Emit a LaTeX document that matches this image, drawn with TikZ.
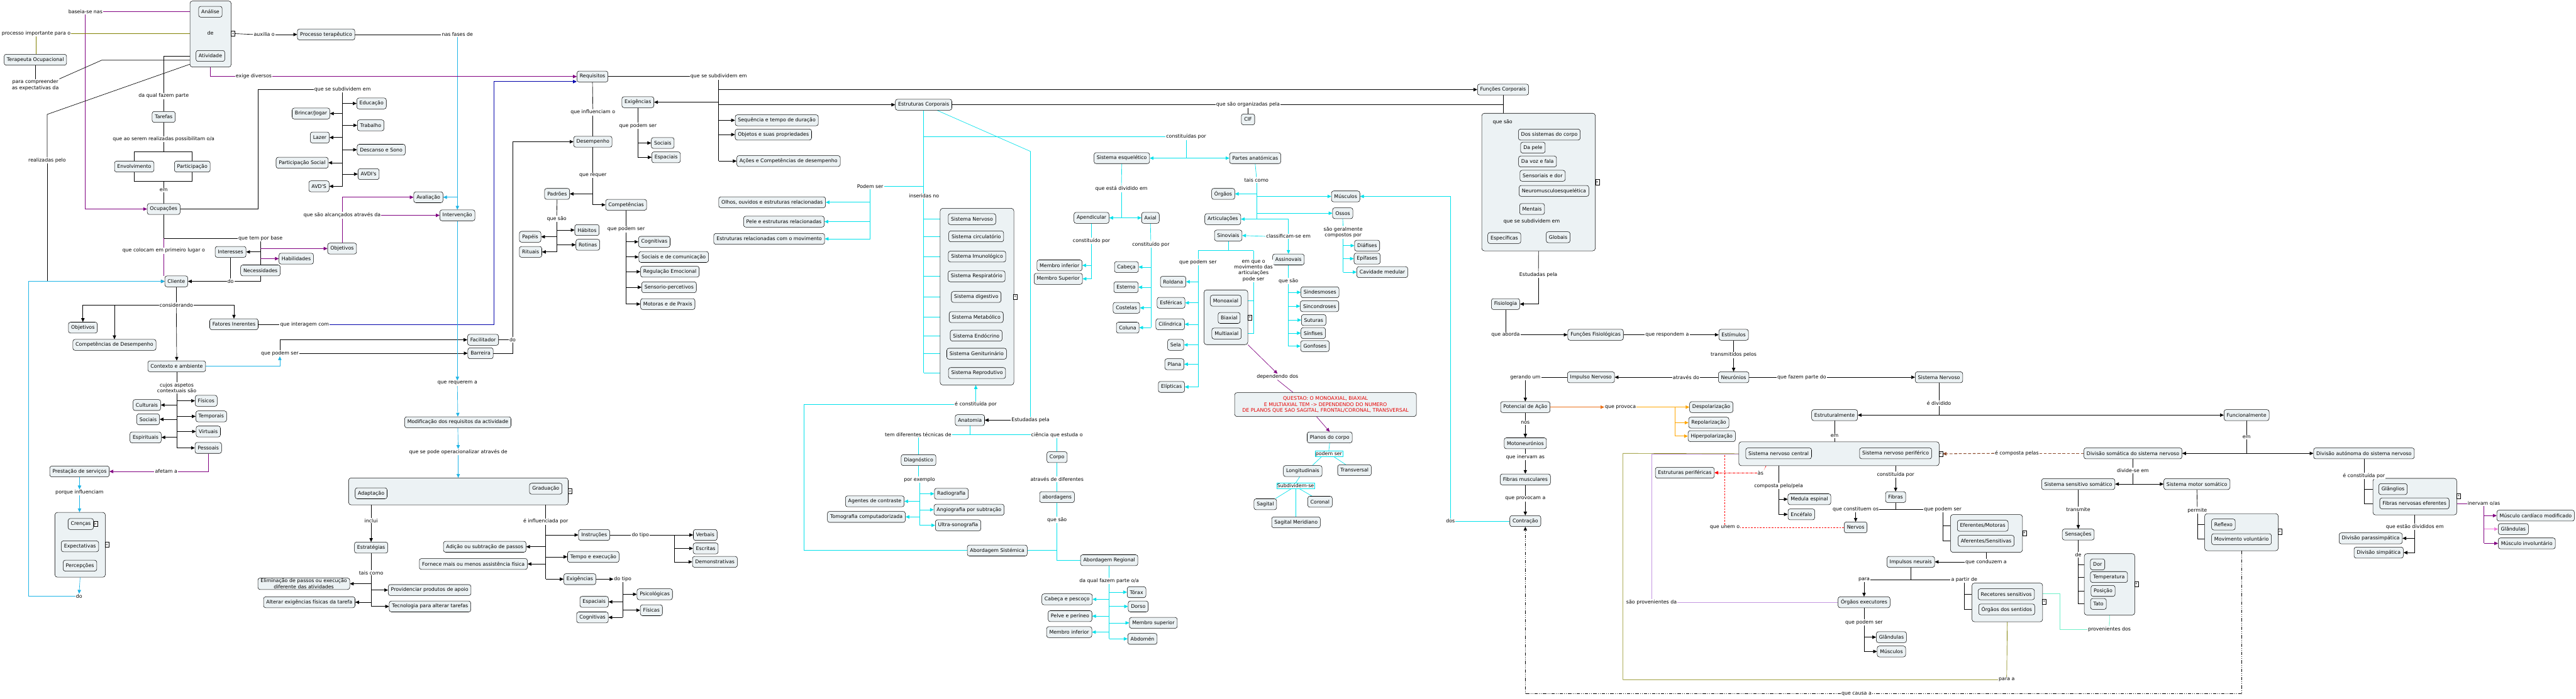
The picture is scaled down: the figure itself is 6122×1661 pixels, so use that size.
\documentclass[tikz,border=0pt]{standalone}
\usepackage{fontspec}
\newfontfamily\dv{DejaVu Sans}
\usetikzlibrary{arrows.meta}
\definecolor{nfill}{RGB}{236,242,244}
\definecolor{purp}{RGB}{128,0,128}
\definecolor{olivc}{RGB}{128,128,0}
\definecolor{skyc}{RGB}{30,180,230}
\definecolor{cyc}{RGB}{0,225,235}
\definecolor{navyc}{RGB}{0,0,170}
\definecolor{orng}{RGB}{235,110,20}
\definecolor{orng2}{RGB}{255,165,0}
\definecolor{brwn}{RGB}{140,75,45}
\definecolor{lavc}{RGB}{195,150,225}
\definecolor{mintc}{RGB}{110,240,200}
\definecolor{pinkc}{RGB}{240,120,220}
\definecolor{qred}{RGB}{230,0,0}
\pgfdeclarelayer{bg}
\pgfsetlayers{bg,main}
\newcommand\mapfont{\dv\fontsize{11.8}{14}\selectfont}
\newcommand\toR[3][ar]{\draw[#1] (#2 |- #3.west) -- (#3.west);}
\newcommand\toL[3][ar]{\draw[#1] (#2 |- #3.east) -- (#3.east);}
\tikzset{
 cn/.style={draw=black, line width=0.8pt, rounded corners=5pt, fill=nfill, inner xsep=6.5pt, inner ysep=2pt, minimum height=26pt, font=\mapfont, align=center},
 grp/.style={draw=black, line width=0.8pt, rounded corners=6pt, fill=nfill, anchor=north west, inner sep=0pt},
 lb/.style={fill=white, inner sep=1.5pt, font=\mapfont, align=center},
 lbc/.style={lb, draw=cyc, line width=0.8pt},
 tx/.style={inner sep=1pt, font=\mapfont, align=center},
 ic/.style={draw=black, fill=white, line width=0.6pt, inner sep=0pt, minimum width=9pt, minimum height=12pt, font=\dv\fontsize{9}{9}\selectfont},
 tip/.style={-{Triangle[length=9pt,width=8pt]}},
 ln/.style={line width=1pt, draw=black},
 ar/.style={ln, tip},
 pu/.style={line width=1pt, draw=purp},
 puar/.style={pu, tip},
 pkar/.style={line width=1pt, draw=pinkc, tip},
 olv/.style={line width=1pt, draw=olivc},
 sk/.style={line width=1pt, draw=skyc},
 skar/.style={sk, tip},
 cy/.style={line width=1pt, draw=cyc},
 cyar/.style={cy, tip},
 nvar/.style={line width=1pt, draw=navyc, tip},
 orar/.style={line width=1pt, draw=orng, tip},
 ortw/.style={line width=1pt, draw=orng2},
 ortwar/.style={ortw, tip},
 bd/.style={line width=1.6pt, draw=brwn, dash pattern=on 7pt off 4pt},
 bdar/.style={bd, tip},
 rdd/.style={line width=1pt, draw=red, dash pattern=on 5pt off 2pt on 1.5pt off 2pt},
 rddar/.style={rdd, tip},
 rdsh/.style={line width=1pt, draw=red, dash pattern=on 4pt off 3pt},
 lv/.style={line width=1pt, draw=lavc},
 mt/.style={line width=1.2pt, draw=mintc},
 ddl/.style={line width=1.4pt, draw=black, dash pattern=on 8pt off 3pt on 1.5pt off 3pt on 1.5pt off 3pt},
 ddar/.style={ddl, tip},
}
\begin{document}
\begin{tikzpicture}[x=1pt,y=-1pt]
\useasboundingbox (0,0) rectangle (6122,1661);
% ---------- group boxes ----------
\node[grp, minimum width=98pt, minimum height=157pt] (anabox) at (451,2) {};
\node[grp, minimum width=120pt, minimum height=154pt] (crenbox) at (130,1218) {};
\node[grp, minimum width=522pt, minimum height=64pt] (adbox) at (828,1136) {};
\node[grp, minimum width=175pt, minimum height=420pt] (sysbox) at (2234,495) {};
\node[grp, minimum width=104pt, minimum height=130pt] (axbox) at (2861,689) {};
\node[grp, minimum width=270pt, minimum height=327pt] (fcbox) at (3521,269) {};
\node[grp, minimum width=476pt, minimum height=57pt] (snbox) at (4132,1050) {};
\node[grp, minimum width=171pt, minimum height=90pt] (efbox) at (4635,1223) {};
\node[grp, minimum width=168pt, minimum height=92pt] (recbox) at (4686,1386) {};
\node[grp, minimum width=120pt, minimum height=146pt] (sensbox) at (4953,1316) {};
\node[grp, minimum width=175pt, minimum height=88pt] (movbox) at (5239,1221) {};
\node[grp, minimum width=199pt, minimum height=87pt] (autbox) at (5639,1137) {};
\node[grp, anchor=center, minimum width=432pt, minimum height=57pt, inner xsep=8pt, font=\mapfont, text=qred, align=center] (questao) at (3150,962) {QUESTAO: O MONOAXIAL, BIAXIAL\\E MULTIAXIAL TEM -> DEPENDENDO DO NUMERO\\DE PLANOS QUE SAO SAGITAL, FRONTAL/CORONAL, TRANSVERSAL};
% ---------- left ----------
\node[cn] (analise) at (500,28) {Análise};
\node[tx] (dede) at (500,79) {de};
\node[cn] (atividade) at (500,133) {Atividade};
\node[ic] (icana) at (554,80) {«};
\node[cn] (procter) at (775,82) {Processo terapêutico};
\node[lb] (lauxilia) at (628,82) {auxilia o};
\node[lb] (lfases) at (1087,82) {nas fases de};
\node[cn] (terap) at (84,142) {Terapeuta Ocupacional};
\node[lb] (lproc) at (86,79) {processo importante para o};
\node[lb] (lbaseia) at (203,28) {baseia-se nas};
\node[lb] (lpara) at (84,202) {para compreender\\as expectativas da};
\node[lb] (lexige) at (603,182) {exige diversos};
\node[lb] (lqual) at (389,228) {da qual fazem parte};
\node[cn] (tarefas) at (389,278) {Tarefas};
\node[lb] (lposs) at (389,331) {que ao serem realizadas possibilitam o/a};
\node[cn] (envolv) at (319,396) {Envolvimento};
\node[cn] (partic) at (457,396) {Participação};
\node[lb] (lem1) at (389,452) {em};
\node[cn] (ocup) at (389,497) {Ocupações};
\node[lb] (lreal) at (112,381) {realizadas pelo};
\node[lb] (lsub1) at (814,213) {que se subdividem em};
\node[cn] (educ) at (883,246) {Educação};
\node[cn] (brincar) at (739,270) {Brincar/Jogar};
\node[cn] (trabalho) at (881,298) {Trabalho};
\node[cn] (lazer) at (760,327) {Lazer};
\node[cn] (descanso) at (906,356) {Descanso e Sono};
\node[cn] (partsoc) at (718,387) {Participação Social};
\node[cn] (avdis) at (876,414) {AVDI's};
\node[cn] (avds) at (758,443) {AVD'S};
\node[cn] (avaliacao) at (1018,469) {Avaliação};
\node[cn] (intervencao) at (1087,512) {Intervenção};
\node[lb] (lalc) at (813,512) {que são alcançados através da};
\node[cn] (objetivos1) at (813,591) {Objetivos};
\node[lb] (lbase) at (619,567) {que tem por base};
\node[lb] (lprim) at (389,596) {que colocam em primeiro lugar o};
\node[cn] (interesses) at (548,599) {Interesses};
\node[cn] (habilidades) at (704,615) {Habilidades};
\node[cn] (necess) at (619,643) {Necessidades};
\node[lb] (ldo1) at (548,669) {do};
\node[cn] (cliente) at (419,669) {Cliente};
\node[lb] (lcons) at (419,725) {considerando};
\node[cn] (objetivos2) at (197,779) {Objetivos};
\node[cn] (compdes) at (272,820) {Competências de Desempenho};
\node[cn] (fatores) at (556,771) {Fatores Inerentes};
\node[cn] (contexto) at (420,871) {Contexto e ambiente};
\node[lb] (linter) at (724,771) {que interagem com};
\node[lb] (lpod1) at (665,840) {que podem ser};
\node[cn] (facilitador) at (1148,808) {Facilitador};
\node[cn] (barreira) at (1142,840) {Barreira};
\node[lb] (ldo2) at (1218,808) {do};
\node[lb] (lcujos) at (420,922) {cujos aspetos\\contextuais são};
\node[cn] (fisicos) at (490,953) {Físicos};
\node[cn] (culturais) at (349,963) {Culturais};
\node[cn] (temporais) at (502,990) {Temporais};
\node[cn] (sociais1) at (352,997) {Sociais};
\node[cn] (virtuais) at (495,1026) {Virtuais};
\node[cn] (espirituais) at (346,1040) {Espirituais};
\node[cn] (pessoais) at (495,1065) {Pessoais};
\node[lb] (lafet) at (395,1121) {afetam a};
\node[cn] (prestacao) at (189,1121) {Prestação de serviços};
\node[lb] (lporque) at (189,1171) {porque influenciam};
\node[cn] (crencas) at (192,1246) {Crenças};
\node[ic] at (227,1246) {»};
\node[cn] (expect) at (190,1299) {Expectativas};
\node[cn] (percep) at (190,1345) {Percepções};
\node[ic] at (254,1295) {«};
\node[lb] (ldo3) at (188,1418) {do};
\node[lb] (lreq) at (1087,911) {que requerem a};
\node[cn] (modif) at (1088,1004) {Modificação dos requisitos da actividade};
\node[lb] (loper) at (1089,1075) {que se pode operacionalizar através de};
\node[cn] (adaptacao) at (882,1173) {Adaptação};
\node[cn] (graduacao) at (1297,1162) {Graduação};
\node[ic] at (1355,1168) {«};
\node[lb] (linclui) at (882,1238) {inclui};
\node[cn] (estrategias) at (882,1302) {Estratégias};
\node[lb] (ltais1) at (882,1362) {tais como};
\node[cn] (elimin) at (722,1388) {Eliminação de passos ou execução\\diferente das atividades};
\node[cn] (providenciar) at (1021,1403) {Providenciar produtos de apoio};
\node[cn] (alterar) at (735,1432) {Alterar exigências físicas da tarefa};
\node[cn] (tecnologia) at (1022,1442) {Tecnologia para alterar tarefas};
\node[cn] (adicao) at (1152,1300) {Adição ou subtração de passos};
\node[cn] (fornece) at (1125,1341) {Fornece mais ou menos assistência física};
\node[lb] (linfl) at (1297,1240) {é influenciada por};
\node[cn] (instrucoes) at (1412,1272) {Instruções};
\node[cn] (tempo) at (1410,1324) {Tempo e execução};
\node[cn] (exig2) at (1378,1377) {Exigências};
\node[lb] (ltipo1) at (1522,1272) {do tipo};
\node[cn] (verbais) at (1676,1272) {Verbais};
\node[cn] (escritas) at (1677,1304) {Escritas};
\node[cn] (demonstr) at (1699,1336) {Demonstrativas};
\node[lb] (ltipo2) at (1480,1377) {do tipo};
\node[cn] (psicol) at (1556,1413) {Psicológicas};
\node[cn] (espac2) at (1412,1431) {Espaciais};
\node[cn] (fisicas) at (1548,1451) {Físicas};
\node[cn] (cognit2) at (1408,1468) {Cognitivas};
% ---------- middle ----------
\node[cn] (requisitos) at (1408,182) {Requisitos};
\node[lb] (lsub2) at (1708,182) {que se subdividem em};
\node[cn] (exig1) at (1516,243) {Exigências};
\node[cn] (estrcorp) at (2195,249) {Estruturas Corporais};
\node[cn] (sequencia) at (1846,286) {Sequência e tempo de duração};
\node[cn] (objetos) at (1838,320) {Objetos e suas propriedades};
\node[cn] (acoes) at (1874,383) {Ações e Competências de desempenho};
\node[lb] (lpod2) at (1516,299) {que podem ser};
\node[cn] (sociais2) at (1575,340) {Sociais};
\node[cn] (espaciais1) at (1583,374) {Espaciais};
\node[lb] (linflu) at (1409,267) {que influenciam o};
\node[cn] (desempenho) at (1409,337) {Desempenho};
\node[lb] (lrequer) at (1409,417) {que requer};
\node[cn] (padroes) at (1324,461) {Padrões};
\node[cn] (compet) at (1488,487) {Competências};
\node[lb] (lsao1) at (1323,520) {que são};
\node[cn] (habitos) at (1395,547) {Hábitos};
\node[cn] (papeis) at (1260,563) {Papéis};
\node[cn] (rotinas) at (1397,582) {Rotinas};
\node[cn] (rituais) at (1261,599) {Rituais};
\node[lb] (lpod3) at (1488,545) {que podem ser};
\node[cn] (cognit1) at (1555,575) {Cognitivas};
\node[cn] (socom) at (1601,611) {Sociais e de comunicação};
\node[cn] (regem) at (1592,646) {Regulação Emocional};
\node[cn] (sensor) at (1590,683) {Sensorio-percetivos};
\node[cn] (motoras) at (1587,723) {Motoras e de Praxis};
\node[lb] (lpodem) at (2068,443) {Podem ser};
\node[cn] (olhos) at (1835,481) {Olhos, ouvidos e estruturas relacionadas};
\node[cn] (pele) at (1863,527) {Pele e estruturas relacionadas};
\node[cn] (estmov) at (1828,568) {Estruturas relacionadas com o movimento};
\node[lb] (linser) at (2196,466) {inseridas no};
\node[cn] (sysnerv) at (2310,521) {Sistema Nervoso};
\node[cn] (syscirc) at (2320,562) {Sistema circulatório};
\node[cn] (sysimun) at (2322,610) {Sistema Imunológico};
\node[cn] (sysresp) at (2321,657) {Sistema Respiratório};
\node[cn] (sysdig) at (2320,706) {Sistema digestivo};
\node[cn] (sysmet) at (2320,754) {Sistema Metabólico};
\node[cn] (sysend) at (2320,798) {Sistema Endócrino};
\node[cn] (sysgen) at (2321,841) {Sistema Geniturinário};
\node[cn] (sysrep) at (2322,887) {Sistema Reprodutivo};
\node[ic] at (2413,706) {«};
\node[lb] (lconst4) at (2319,962) {é constituída por};
\node[cn] (anatomia) at (2305,999) {Anatomia};
\node[lb] (lestud) at (2449,999) {Estudadas pela};
\node[lb] (ltec) at (2182,1034) {tem diferentes técnicas de};
\node[lb] (lcien) at (2512,1034) {ciência que estuda o};
\node[cn] (diagnostico) at (2183,1094) {Diagnóstico};
\node[cn] (corpo) at (2512,1087) {Corpo};
\node[lb] (lexem) at (2185,1141) {por exemplo};
\node[cn] (radio) at (2261,1174) {Radiografia};
\node[cn] (agentes) at (2079,1192) {Agentes de contraste};
\node[cn] (angio) at (2303,1212) {Angiografia por subtração};
\node[cn] (tomo) at (2059,1229) {Tomografia computadorizada};
\node[cn] (ultra) at (2277,1249) {Ultra-sonografia};
\node[lb] (latrav) at (2512,1140) {através de diferentes};
\node[cn] (abordagens) at (2512,1182) {abordagens};
\node[lb] (lsao3) at (2512,1236) {que são};
\node[cn] (absist) at (2370,1309) {Abordagem Sistémica};
\node[cn] (abreg) at (2636,1332) {Abordagem Regional};
\node[lb] (lfaz2) at (2636,1381) {da qual fazem parte o/a};
\node[cn] (torax) at (2701,1408) {Tórax};
\node[cn] (cabpes) at (2536,1425) {Cabeça e pescoço};
\node[cn] (dorso) at (2705,1442) {Dorso};
\node[cn] (pelve) at (2543,1465) {Pelve e períneo};
\node[cn] (msup) at (2741,1481) {Membro superior};
\node[cn] (minf) at (2541,1503) {Membro inferior};
\node[cn] (abdomen) at (2715,1519) {Abdomén};
\node[lb] (lorg) at (2966,249) {que são organizadas pela};
\node[cn] (cif) at (2966,284) {CIF};
\node[lb] (lconst) at (2819,325) {constituídas por};
\node[cn] (sisesq) at (2666,376) {Sistema esquelético};
\node[cn] (partes) at (2983,376) {Partes anatómicas};
\node[lb] (ldiv) at (2665,449) {que está dividido em};
\node[cn] (apend) at (2594,518) {Apendicular};
\node[cn] (axial) at (2734,518) {Axial};
\node[lb] (lcons2) at (2594,572) {constituído por};
\node[cn] (minf2) at (2518,631) {Membro inferior};
\node[cn] (msup2) at (2515,663) {Membro Superior};
\node[lb] (lcons3) at (2735,581) {constituído por};
\node[cn] (cabeca) at (2677,635) {Cabeça};
\node[cn] (esterno) at (2676,683) {Esterno};
\node[cn] (costelas) at (2677,732) {Costelas};
\node[cn] (coluna) at (2680,779) {Coluna};
\node[lb] (ltais2) at (2986,428) {tais como};
\node[cn] (orgaos) at (2907,461) {Órgãos};
\node[cn] (musculos) at (3198,467) {Músculos};
\node[cn] (ossos) at (3191,507) {Ossos};
\node[cn] (articul) at (2906,521) {Articulações};
\node[lb] (lclass) at (3062,562) {classificam-se em};
\node[cn] (sinoviais) at (2919,560) {Sinoviais};
\node[cn] (assinov) at (3062,617) {Assinovais};
\node[lb] (lcomp) at (3192,553) {são geralmente\\compostos por};
\node[cn] (diafises) at (3249,584) {Diáfises};
\node[cn] (epifases) at (3249,615) {Epífases};
\node[cn] (cavidade) at (3285,647) {Cavidade medular};
\node[lb] (lpod4) at (2847,623) {que podem ser};
\node[cn] (roldana) at (2788,670) {Roldana};
\node[cn] (esfericas) at (2783,720) {Esféricas};
\node[cn] (cilindrica) at (2781,771) {Cilíndrica};
\node[cn] (sela) at (2794,820) {Sela};
\node[cn] (plana) at (2791,866) {Plana};
\node[cn] (elipticas) at (2784,920) {Elípticas};
\node[lb] (lmov) at (2979,644) {em que o\\movimento das\\articulações\\pode ser};
\node[cn] (monoax) at (2913,715) {Monoaxial};
\node[cn] (biax) at (2921,756) {Biaxial};
\node[cn] (multiax) at (2915,793) {Multiaxial};
\node[ic] at (2970,755) {«};
\node[lb] (lsao2) at (3062,668) {que são};
\node[cn] (sindes) at (3137,695) {Sindesmoses};
\node[cn] (sincon) at (3136,728) {Sincondroses};
\node[cn] (suturas) at (3122,761) {Suturas};
\node[cn] (sinfises) at (3121,792) {Sínfises};
\node[cn] (gonfoses) at (3125,823) {Gonfoses};
\node[lb] (ldep) at (3036,896) {dependendo dos};
\node[cn] (planos) at (3160,1040) {Planos do corpo};
\node[lbc] (lpodem2) at (3158,1079) {podem ser};
\node[cn] (longit) at (3096,1120) {Longitudinais};
\node[cn] (transv) at (3219,1118) {Transversal};
\node[lbc] (lsubd) at (3079,1155) {Subdividem-se};
\node[cn] (sagital) at (3007,1199) {Sagital};
\node[cn] (coronal) at (3137,1193) {Coronal};
\node[cn] (sagmer) at (3080,1242) {Sagital Meridiano};
% ---------- right ----------
\node[cn] (funcorp) at (3572,213) {Funções Corporais};
\node[tx] at (3571,290) {que são};
\node[cn] (dossis) at (3682,320) {Dos sistemas do corpo};
\node[cn] (dapele) at (3643,351) {Da pele};
\node[cn] (davoz) at (3654,384) {Da voz e fala};
\node[cn] (sensdor) at (3666,418) {Sensoriais e dor};
\node[cn] (neuro) at (3693,454) {Neuromusculoesquelética};
\node[cn] (mentais) at (3641,497) {Mentais};
\node[tx] at (3640,526) {que se subdividem em};
\node[cn] (especif) at (3575,566) {Específicas};
\node[cn] (globais) at (3703,564) {Globais};
\node[ic] at (3796,433) {«};
\node[lb] (lestud2) at (3656,653) {Estudadas pela};
\node[cn] (fisiologia) at (3578,723) {Fisiologia};
\node[lb] (laborda) at (3578,796) {que aborda};
\node[cn] (funfis) at (3792,796) {Funções Fisiológicas};
\node[lb] (lresp) at (3962,796) {que respondem a};
\node[cn] (estimulos) at (4120,796) {Estímulos};
\node[lb] (ltrans) at (4120,844) {transmitidos pelos};
\node[cn] (neuronios) at (4120,897) {Neurónios};
\node[lb] (latrav2) at (4007,897) {através do};
\node[cn] (impnerv) at (3781,897) {Impulso Nervoso};
\node[lb] (lger) at (3625,897) {gerando um};
\node[cn] (potacao) at (3625,968) {Potencial de Ação};
\node[lb] (lprov) at (3851,968) {que provoca};
\node[cn] (despol) at (4067,968) {Despolarização};
\node[cn] (repol) at (4061,1005) {Repolarização};
\node[cn] (hiperpol) at (4068,1037) {Hiperpolarização};
\node[lb] (lnos) at (3625,1005) {nos};
\node[cn] (motoneur) at (3625,1054) {Motoneurónios};
\node[lb] (linerv) at (3625,1087) {que inervam as};
\node[cn] (fibmusc) at (3625,1140) {Fibras musculares};
\node[lb] (lprovoc) at (3625,1186) {que provocam a};
\node[cn] (contracao) at (3625,1239) {Contração};
\node[lb] (ldos) at (3447,1239) {dos};
\node[lb] (lfazem) at (4282,897) {que fazem parte do};
\node[cn] (sisnerv2) at (4608,897) {Sistema Nervoso};
\node[lb] (ldiv2) at (4608,959) {é dividido};
\node[cn] (estrut) at (4360,987) {Estruturalmente};
\node[cn] (funcional) at (5339,987) {Funcionalmente};
\node[lb] (lem2) at (4360,1036) {em};
\node[cn] (snc) at (4227,1078) {Sistema nervoso central};
\node[cn] (snp) at (4505,1078) {Sistema nervoso periférico};
\node[ic] (snicon) at (4612,1079) {«};
\node[lb] (las) at (4184,1124) {às};
\node[cn] (estperif) at (4004,1124) {Estruturas periféricas};
\node[lb] (lcomp2) at (4227,1156) {composta pelo/pela};
\node[cn] (medula) at (4300,1187) {Medula espinal};
\node[cn] (encefalo) at (4281,1223) {Encéfalo};
\node[lb] (lconst5) at (4505,1129) {constituída por};
\node[cn] (fibras) at (4505,1182) {Fibras};
\node[lb] (lconst6) at (4410,1211) {que constituem os};
\node[lb] (lpod5) at (4617,1211) {que podem ser};
\node[cn] (nervos) at (4410,1254) {Nervos};
\node[lb] (lunem) at (4099,1254) {que unem o};
\node[cn] (eferentes) at (4712,1250) {Eferentes/Motoras};
\node[cn] (aferentes) at (4720,1286) {Aferentes/Sensitivas};
\node[ic] at (4811,1268) {«};
\node[lb] (lconduz) at (4720,1336) {que conduzem a};
\node[cn] (impneur) at (4541,1336) {Impulsos neurais};
\node[lb] (lpara3) at (4430,1378) {para};
\node[lb] (lpartir) at (4668,1378) {a partir de};
\node[cn] (orgexec) at (4430,1432) {Órgãos executores};
\node[lb] (lpod6) at (4430,1480) {que podem ser};
\node[cn] (glandulas1) at (4495,1515) {Glândulas};
\node[cn] (musculos2) at (4495,1549) {Músculos};
\node[lb] (lprov2) at (3925,1432) {são provenientes da};
\node[cn] (recetores) at (4768,1413) {Recetores sensitivos};
\node[cn] (orgsent) at (4769,1449) {Órgãos dos sentidos};
\node[ic] at (4858,1431) {«};
\node[lb] (lpara2) at (4769,1616) {para a};
\node[lb] (lcausa) at (4412,1650) {que causa a};
\node[lb] (lem3) at (5339,1040) {em};
\node[cn] (divsom) at (5069,1078) {Divisão somática do sistema nervoso};
\node[cn] (divaut) at (5618,1078) {Divisão autónoma do sistema nervoso};
\node[lb] (lcomp3) at (4793,1078) {é composta pelas};
\node[lb] (ldivide) at (5069,1119) {divide-se em};
\node[cn] (sensom) at (4939,1151) {Sistema sensitivo somático};
\node[cn] (motsom) at (5221,1151) {Sistema motor somático};
\node[lb] (ltransm) at (4939,1211) {transmite};
\node[cn] (sensacoes) at (4939,1271) {Sensações};
\node[lb] (lde) at (4939,1319) {de};
\node[cn] (dor) at (4985,1342) {Dor};
\node[cn] (temper) at (5012,1372) {Temperatura};
\node[cn] (posicao) at (4998,1405) {Posição};
\node[cn] (tato) at (4987,1436) {Tato};
\node[ic] at (5077,1389) {«};
\node[lb] (lprov3) at (5013,1496) {provenientes dos};
\node[lb] (lpermite) at (5222,1214) {permite};
\node[cn] (reflexo) at (5284,1247) {Reflexo};
\node[cn] (movvol) at (5327,1282) {Movimento voluntário};
\node[ic] at (5418,1264) {«};
\node[lb] (lconst7) at (5618,1131) {é constituída por};
\node[cn] (ganglios) at (5687,1163) {Glânglios};
\node[cn] (fibeferentes) at (5738,1197) {Fibras nervosas eferentes};
\node[ic] at (5843,1179) {«};
\node[lb] (linerv2) at (5903,1197) {inervam o/as};
\node[cn] (muscard) at (6026,1226) {Músculo cardíaco modificado};
\node[cn] (glandulas2) at (5973,1258) {Glândulas};
\node[cn] (musinv) at (6005,1292) {Músculo involuntário};
\node[lb] (lestao) at (5739,1253) {que estão divididos em};
\node[cn] (parassimp) at (5634,1280) {Divisão parassimpática};
\node[cn] (simpat) at (5653,1314) {Divisão simpática};
% ---------- connectors ----------
\begin{pgfonlayer}{bg}
\fill[white] (0,0) rectangle (6122,1661);
% left
\draw[pu] (lbaseia.east) -- (lbaseia.east -| anabox.west);
\draw[puar] (lbaseia.south) |- (ocup.west);
\draw[olv] (lproc.east) -- (lproc.east -| anabox.west);
\draw[olv] (lproc.south) -- (lproc.south |- terap.north);
\draw[ln] (terap.south) -- (lpara.north);
\coordinate (k1) at (242,143);
\draw[ln] (lpara.north east) -- (k1) -- (k1 -| anabox.west);
\coordinate (k3) at (112,272);
\draw[ln] ([yshift=7pt]anabox.south west) -- (k3) -- (lreal.north);
\draw[ar] (lreal.south) |- (cliente.west);
\draw[ln] (anabox.west |- atividade.west) -| (lqual.north);
\draw[ln] (lqual.south) -- (tarefas.north);
\draw[ln] (icana.east) -- (lauxilia.west);
\draw[ar] (lauxilia.east) -- (procter.west);
\draw[ln] (procter.east) -- (lfases.west);
\draw[skar] (lfases.south) -- (intervencao.north);
\draw[skar] (lfases.south |- avaliacao.east) -- (avaliacao.east);
\draw[pu] (anabox.south) |- (lexige.west);
\draw[puar] (lexige.east) -- (requisitos.west);
\draw[ln] (tarefas.south) -- (lposs.north);
\coordinate (b1) at (389,360); \coordinate (b2) at (389,431);
\draw[ln] (lposs.south) -- (b1);
\draw[ln] (envolv.north) |- (b1) -| (partic.north);
\draw[ln] (envolv.south) |- (b2) -| (partic.south);
\draw[ln] (b2) -- (lem1.north);
\draw[ln] (lem1.south) -- (ocup.north);
\draw[ln] (ocup.east) -- ++(185,0) |- (lsub1.west);
\draw[ln] (lsub1.south) -- (lsub1.south |- avds.east);
\toR{lsub1.south}{educ} \toL{lsub1.south}{brincar} \toR{lsub1.south}{trabalho} \toL{lsub1.south}{lazer}
\toR{lsub1.south}{descanso} \toL{lsub1.south}{partsoc} \toR{lsub1.south}{avdis} \toL{lsub1.south}{avds}
\draw[pu] (objetivos1.north) -- (lalc.south);
\draw[puar] (lalc.north) |- (avaliacao.west);
\draw[puar] (lalc.east) -- (intervencao.west);
\draw[ln] (ocup.south) |- (lbase.west);
\draw[pu] (ocup.south |- lbase.west) -- (lprim.north);
\draw[pu] (lprim.south) -- (lprim.south |- cliente.north);
\draw[ln] (lbase.south) -- (necess.north);
\toL{lbase.south}{interesses}
\toR[puar]{lbase.south}{objetivos1}
\toR[puar]{lbase.south}{habilidades}
\draw[ln] (interesses.south) -- (ldo1.north);
\draw[ln] (necess.south) |- (ldo1.east);
\draw[ar] (ldo1.west) -- (cliente.east);
\draw[ln] (cliente.south) -- (lcons.north);
\draw[ar] (lcons.south) -- (contexto.north);
\draw[ar] (lcons.west) -| (objetivos2.north);
\draw[ar] (lcons.west) -| (compdes.north);
\draw[ar] (lcons.east) -| (fatores.north);
\draw[ln] (fatores.east) -- (linter.west);
\coordinate (cb1) at (1174,771);
\draw[nvar] (linter.east) -- (cb1) |- ([yshift=-12pt]requisitos.west);
\draw[skar] (contexto.east) -| (lpod1.south);
\draw[ar] (lpod1.north) |- (facilitador.west);
\draw[ar] (lpod1.east) -- (lpod1.east -| barreira.west);
\draw[ln] (facilitador.east) -- (ldo2.west);
\draw[ln] (barreira.east) -| (ldo2.south);
\draw[ar] (ldo2.north) |- (desempenho.west);
\draw[ln] (contexto.south) -- (lcujos.north);
\draw[ln] (lcujos.south) -- (lcujos.south |- pessoais.west);
\toR{lcujos.south}{fisicos} \toL{lcujos.south}{culturais} \toR{lcujos.south}{temporais} \toL{lcujos.south}{sociais1}
\toR{lcujos.south}{virtuais} \toL{lcujos.south}{espirituais} \toR{lcujos.south}{pessoais}
\draw[pu] (pessoais.south) |- (lafet.east);
\draw[puar] (lafet.west) -- (prestacao.east);
\draw[skar] (prestacao.south) -- (lporque.north);
\draw[skar] (lporque.south) -- (lporque.south |- crenbox.north);
\draw[skar] (crenbox.south) -- (ldo3.north);
\coordinate (cc1) at (68,1418); \coordinate (cc2) at (68,669);
\draw[skar] (ldo3.west) -- (cc1) -- (cc2) -- (cliente.west);
\draw[skar] (intervencao.south) -- (lreq.north);
\draw[skar] (lreq.south) -- (modif.north);
\draw[skar] (modif.south) -- (loper.north);
\draw[skar] (loper.south) -- (loper.south |- adbox.north);
\draw[ln] (adaptacao.south |- adbox.south) -- (linclui.north);
\draw[ar] (linclui.south) -- (estrategias.north);
\draw[ln] (estrategias.south) -- (ltais1.north);
\draw[ln] (ltais1.south) -- (ltais1.south |- tecnologia.west);
\toL{ltais1.south}{elimin} \toR{ltais1.south}{providenciar} \toL{ltais1.south}{alterar} \toR{ltais1.south}{tecnologia}
\draw[ln] (graduacao.south |- adbox.south) -- (linfl.north);
\draw[ln] (linfl.south) -- (linfl.south |- exig2.west);
\toR{linfl.south}{instrucoes} \toL{linfl.south}{adicao} \toR{linfl.south}{tempo} \toL{linfl.south}{fornece} \toR{linfl.south}{exig2}
\draw[ln] (instrucoes.east) -- (ltipo1.west);
\coordinate (tp1) at (1602,1272);
\draw[ln] (ltipo1.east) -- (tp1) -- (tp1 |- demonstr.west);
\toR{tp1}{verbais} \toR{tp1}{escritas} \toR{tp1}{demonstr}
\draw[ar] (exig2.east) -- (ltipo2.west);
\draw[ln] (ltipo2.south) -- (ltipo2.south |- cognit2.east);
\toR{ltipo2.south}{psicol} \toL{ltipo2.south}{espac2} \toR{ltipo2.south}{fisicas} \toL{ltipo2.south}{cognit2}
% middle
\draw[ln] (requisitos.east) -- (lsub2.west);
\draw[ln] (lsub2.south) -- (lsub2.south |- acoes.west);
\draw[ar] (lsub2.south |- funcorp.west) -- (funcorp.west);
\toL{lsub2.south}{exig1} \toR{lsub2.south}{estrcorp} \toR{lsub2.south}{sequencia} \toR{lsub2.south}{objetos} \toR{lsub2.south}{acoes}
\draw[ln] (exig1.south) -- (lpod2.north);
\draw[ln] (lpod2.south) -- (lpod2.south |- espaciais1.west);
\toR{lpod2.south}{sociais2} \toR{lpod2.south}{espaciais1}
\draw[ln] (requisitos.south) -- (linflu.north);
\draw[ln] (linflu.south) -- (desempenho.north);
\draw[ln] (desempenho.south) -- (lrequer.north);
\draw[ln] (lrequer.south) -- (lrequer.south |- compet.west);
\toL{lrequer.south}{padroes} \toR{lrequer.south}{compet}
\draw[ln] (padroes.south) -- (lsao1.north);
\draw[ln] (lsao1.south) -- (lsao1.south |- rituais.east);
\toR{lsao1.south}{habitos} \toL{lsao1.south}{papeis} \toR{lsao1.south}{rotinas} \toL{lsao1.south}{rituais}
\draw[ln] (compet.south) -- (lpod3.north);
\draw[ln] (lpod3.south) -- (lpod3.south |- motoras.west);
\toR{lpod3.south}{cognit1} \toR{lpod3.south}{socom} \toR{lpod3.south}{regem} \toR{lpod3.south}{sensor} \toR{lpod3.south}{motoras}
\draw[cy] (estrcorp.south) -- (estrcorp.south |- sysrep.west);
\foreach \s in {sysnerv,syscirc,sysimun,sysresp,sysdig,sysmet,sysend,sysgen,sysrep}
  {\draw[cy] (estrcorp.south |- \s.west) -- (sysbox.west |- \s.west);}
\draw[cy] (estrcorp.south |- lpodem.east) -- (lpodem.east);
\draw[cy] (lpodem.south) -- (lpodem.south |- estmov.east);
\toL[cyar]{lpodem.south}{olhos} \toL[cyar]{lpodem.south}{pele} \toL[cyar]{lpodem.south}{estmov}
\draw[cy] (estrcorp.south |- lconst.west) -- (lconst.west);
\coordinate (ce1) at (2449,360);
\draw[cy] ([xshift=32pt]estrcorp.south) -- (ce1) -- (lestud.north);
\draw[ar] (lestud.west) -- (anatomia.east);
\draw[cy] (lconst.south) -- (lconst.south |- sisesq.east);
\toL[cyar]{lconst.south}{sisesq} \toR[cyar]{lconst.south}{partes}
\draw[cy] (sisesq.south) -- (ldiv.north);
\draw[cy] (ldiv.south) -- (ldiv.south |- apend.east);
\toL[cyar]{ldiv.south}{apend} \toR[cyar]{ldiv.south}{axial}
\draw[cy] (apend.south) -- (lcons2.north);
\draw[cy] (lcons2.south) -- (lcons2.south |- msup2.east);
\toL[cyar]{lcons2.south}{minf2} \toL[cyar]{lcons2.south}{msup2}
\draw[cy] (axial.south) -- (lcons3.north);
\draw[cy] (lcons3.south) -- (lcons3.south |- coluna.east);
\toL[cyar]{lcons3.south}{cabeca} \toL[cyar]{lcons3.south}{esterno} \toL[cyar]{lcons3.south}{costelas} \toL[cyar]{lcons3.south}{coluna}
\draw[cy] (partes.south) -- (ltais2.north);
\draw[cy] (ltais2.south) -- (ltais2.south |- articul.east);
\toL[cyar]{ltais2.south}{orgaos} \toR[cyar]{ltais2.south}{musculos} \toR[cyar]{ltais2.south}{ossos} \toL[cyar]{ltais2.south}{articul}
\draw[cy] (articul.east) -| (lclass.north);
\draw[cyar] (lclass.west) -- (sinoviais.east);
\draw[cyar] (lclass.south) -- (assinov.north);
\coordinate (svl) at (2847,596); \coordinate (svr) at (2979,596);
\draw[cy] (sinoviais.south) -- (sinoviais.south |- svl);
\draw[cy] (svl) -- (svr);
\draw[cy] (svl) -- (lpod4.north);
\draw[cy] (svr) -- (lmov.north);
\draw[cy] (lpod4.south) -- (lpod4.south |- elipticas.east);
\foreach \s in {roldana,esfericas,cilindrica,sela,plana,elipticas}{\toL[cyar]{lpod4.south}{\s}}
\draw[cy] (lmov.south) -- (lmov.south |- multiax.east);
\draw[cy] (lmov.south |- monoax.east) -- (axbox.east |- monoax.east);
\draw[cy] (lmov.south |- multiax.east) -- (axbox.east |- multiax.east);
\draw[cy] (assinov.south) -- (lsao2.north);
\draw[cy] (lsao2.south) -- (lsao2.south |- gonfoses.west);
\foreach \s in {sindes,sincon,suturas,sinfises,gonfoses}{\toR[cyar]{lsao2.south}{\s}}
\draw[cy] (ossos.south) -- (lcomp.north);
\draw[cy] (lcomp.south) -- (lcomp.south |- cavidade.west);
\toR[cyar]{lcomp.south}{diafises} \toR[cyar]{lcomp.south}{epifases} \toR[cyar]{lcomp.south}{cavidade}
\draw[puar] (axbox.south east) -- (ldep.north);
\draw[pu] (ldep.south) -- ([xshift=-77pt]questao.north);
\draw[puar] ([xshift=-21pt]questao.south) -- (planos.north);
\draw[cy] (planos.south) -- (lpodem2.north);
\draw[cy] ([xshift=-18pt]lpodem2.south) -- ([xshift=23pt]longit.north);
\draw[cy] ([xshift=13pt]lpodem2.south) -- ([xshift=-21pt]transv.north);
\draw[cy] ([xshift=-7pt]longit.south) -- (lsubd.north);
\draw[cy] ([xshift=-9pt]lsubd.south) -- ([xshift=24pt]sagital.north);
\draw[cy] ([xshift=8pt]lsubd.south) -- ([xshift=-19pt]coronal.north);
\draw[cy] (lsubd.south) -- (lsubd.south |- sagmer.north);
\draw[cy] (contracao.west) -- (ldos.east);
\draw[cyar] (ldos.north) |- (musculos.east);
\draw[cy] (anatomia.south) -- (anatomia.south |- ltec.east);
\draw[cy] (ltec.east) -- (lcien.west);
\draw[cy] (ltec.south) -- (ltec.south |- diagnostico.north);
\draw[cy] (lcien.south) -- (corpo.north);
\draw[cy] (diagnostico.south) -- (diagnostico.south |- lexem.north);
\draw[cy] (lexem.south) -- (lexem.south |- ultra.west);
\toR[cyar]{lexem.south}{radio} \toL[cyar]{lexem.south}{agentes} \toR[cyar]{lexem.south}{angio} \toL[cyar]{lexem.south}{tomo} \toR[cyar]{lexem.south}{ultra}
\draw[cy] (corpo.south) -- (latrav.north);
\draw[cy] (latrav.south) -- (abordagens.north);
\draw[cy] (abordagens.south) -- (lsao3.north);
\draw[cy] (lsao3.south) |- (abreg.west);
\draw[cy] (lsao3.south |- absist.east) -- (absist.east);
\coordinate (cs1) at (1910,1309); \coordinate (cs2) at (1910,962);
\draw[cy] (absist.west) -- (cs1) -- (cs2) -- (lconst4.west);
\draw[cyar] (lconst4.north) -- (lconst4.north |- sysbox.south);
\draw[cy] (abreg.south) -- (lfaz2.north);
\draw[cy] (lfaz2.south) -- (lfaz2.south |- abdomen.west);
\foreach \s in {torax,dorso,msup,abdomen}{\toR[cyar]{lfaz2.south}{\s}}
\foreach \s in {cabpes,pelve,minf}{\toL[cyar]{lfaz2.south}{\s}}
\draw[ln] (estrcorp.east) -- (lorg.west);
\draw[ln] (lorg.east) -- (lorg.east -| funcorp.south);
\draw[ln] (lorg.south) -- (cif.north);
\draw[ln] (funcorp.south) -- (funcorp.south |- fcbox.north);
% right
\draw[ln] (fcbox.south) -- (lestud2.north);
\draw[ar] (lestud2.south) |- (fisiologia.east);
\draw[ln] (fisiologia.south) -- (laborda.north);
\draw[ar] (laborda.east) -- (funfis.west);
\draw[ln] (funfis.east) -- (lresp.west);
\draw[ar] (lresp.east) -- (estimulos.west);
\draw[ln] (estimulos.south) -- (ltrans.north);
\draw[ar] (ltrans.south) -- (neuronios.north);
\draw[ln] (neuronios.west) -- (latrav2.east);
\draw[ar] (latrav2.west) -- (impnerv.east);
\draw[ln] (impnerv.west) -- (lger.east);
\draw[ar] (lger.south) -- (potacao.north);
\draw[orar] (potacao.east) -- (lprov.west);
\coordinate (op) at (3981,968);
\draw[ortw] (lprov.east) -- (op) -- (op |- hiperpol.west);
\toR[ortwar]{op}{despol} \toR[ortwar]{op}{repol} \toR[ortwar]{op}{hiperpol}
\draw[ln] (potacao.south) -- (lnos.north);
\draw[ar] (lnos.south) -- (motoneur.north);
\draw[ln] (motoneur.south) -- (linerv.north);
\draw[ar] (linerv.south) -- (fibmusc.north);
\draw[ln] (fibmusc.south) -- (lprovoc.north);
\draw[ar] (lprovoc.south) -- (contracao.north);
\draw[ln] (neuronios.east) -- (lfazem.west);
\draw[ar] (lfazem.east) -- (sisnerv2.west);
\draw[ln] (sisnerv2.south) -- (ldiv2.north);
\draw[ln] (ldiv2.south) -- (ldiv2.south |- estrut.east);
\draw[ar] (ldiv2.south |- estrut.east) -- (estrut.east);
\draw[ar] (ldiv2.south |- estrut.east) -- (funcional.west);
\draw[ln] (estrut.south) -- (lem2.north);
\draw[ln] (lem2.south) -- (lem2.south |- snbox.north);
\draw[rdd] ([xshift=65pt]snbox.south west) -- (las.north east);
\draw[rddar] (las.west) -- (estperif.east);
\draw[ln] (snc.south |- snbox.south) -- (lcomp2.north);
\draw[ln] (lcomp2.south) -- (lcomp2.south |- encefalo.west);
\toR{lcomp2.south}{medula} \toR{lcomp2.south}{encefalo}
\draw[ln] (snp.south |- snbox.south) -- (lconst5.north);
\draw[ar] (lconst5.south) -- (fibras.north);
\draw[ln] (fibras.south) -- (fibras.south |- lconst6.east);
\draw[ln] (lconst6.east) -- (lpod5.west);
\draw[ar] (lconst6.south) -- (nervos.north);
\draw[ln] (lpod5.south) -- (lpod5.south |- aferentes.west);
\draw[ln] (lpod5.south |- eferentes.west) -- (efbox.west |- eferentes.west);
\draw[ln] (lpod5.south |- aferentes.west) -- (efbox.west |- aferentes.west);
\draw[rdsh] (nervos.west) -- (lunem.east);
\draw[rdsh] (lunem.north) -- (lunem.north |- snbox.west);
\draw[lv] (orgexec.west) -- (lprov2.east);
\draw[lv] (lprov2.north) |- (snbox.west);
\coordinate (ol1) at (3857,1078); \coordinate (ol2) at (3857,1616);
\draw[olv] (recbox.south) -- (lpara2.north);
\draw[olv] (lpara2.west) -- (ol2) -- (ol1) -- (snbox.west);
\draw[ln] (efbox.south -| lconduz.north) -- (lconduz.north);
\draw[ar] (lconduz.west) -- (impneur.east);
\draw[ln] (impneur.south) -- (impneur.south |- lpara3.east);
\draw[ln] (lpara3.east) -- (lpartir.west);
\draw[ar] (lpara3.south) -- (orgexec.north);
\draw[ln] (lpartir.south) -- (lpartir.south |- orgsent.west);
\draw[ln] (lpartir.south |- recetores.west) -- (recbox.west |- recetores.west);
\draw[ln] (lpartir.south |- orgsent.west) -- (recbox.west |- orgsent.west);
\draw[ln] (orgexec.south) -- (lpod6.north);
\draw[ln] (lpod6.south) -- (lpod6.south |- musculos2.west);
\toR{lpod6.south}{glandulas1} \toR{lpod6.south}{musculos2}
\draw[ddl] (movbox.south) |- (lcausa.east);
\draw[ddar] (lcausa.west) -| (contracao.south);
\draw[ln] (funcional.south) -- (lem3.north);
\draw[ln] (lem3.south) -- (lem3.south |- divsom.east);
\draw[ar] (lem3.south |- divsom.east) -- (divsom.east);
\draw[ar] (lem3.south |- divsom.east) -- (divaut.west);
\draw[bd] (divsom.west) -- (lcomp3.east);
\draw[bdar] (lcomp3.west) -- (snicon.east);
\draw[ln] (divsom.south) -- (ldivide.north);
\draw[ln] (ldivide.south) -- (ldivide.south |- sensom.east);
\draw[ar] (ldivide.south |- sensom.east) -- (sensom.east);
\draw[ar] (ldivide.south |- sensom.east) -- (motsom.west);
\draw[ln] (sensom.south) -- (ltransm.north);
\draw[ar] (ltransm.south) -- (sensacoes.north);
\draw[ln] (sensacoes.south) -- (lde.north);
\draw[ln] (lde.south) -- (lde.south |- tato.west);
\foreach \s in {dor,temper,posicao,tato}{\draw[ln] (lde.south |- \s.west) -- (sensbox.west |- \s.west);}
\draw[mt] (sensbox.south) -- (lprov3.north);
\coordinate (m1) at (4895,1496); \coordinate (m2) at (4895,1412);
\draw[mt] (lprov3.west) -- (m1) -- (m2) -- (m2 -| recbox.east);
\draw[ln] (motsom.south) -- (lpermite.north);
\draw[ln] (lpermite.south) -- (lpermite.south |- movvol.west);
\foreach \s in {reflexo,movvol}{\draw[ln] (lpermite.south |- \s.west) -- (movbox.west |- \s.west);}
\draw[ln] (divaut.south) -- (lconst7.north);
\draw[ln] (lconst7.south) -- (lconst7.south |- fibeferentes.west);
\foreach \s in {ganglios,fibeferentes}{\draw[ln] (lconst7.south |- \s.west) -- (autbox.west |- \s.west);}
\draw[pu] (autbox.east |- fibeferentes.east) -- (linerv2.west);
\draw[pu] (linerv2.south) -- (linerv2.south |- musinv.west);
\toR[puar]{linerv2.south}{muscard} \toR[pkar]{linerv2.south}{glandulas2} \toR[puar]{linerv2.south}{musinv}
\draw[ln] (lestao.north |- autbox.south) -- (lestao.north);
\draw[ln] (lestao.south) -- (lestao.south |- simpat.east);
\toL{lestao.south}{parassimp} \toL{lestao.south}{simpat}
\end{pgfonlayer}
\end{tikzpicture}
\end{document}
